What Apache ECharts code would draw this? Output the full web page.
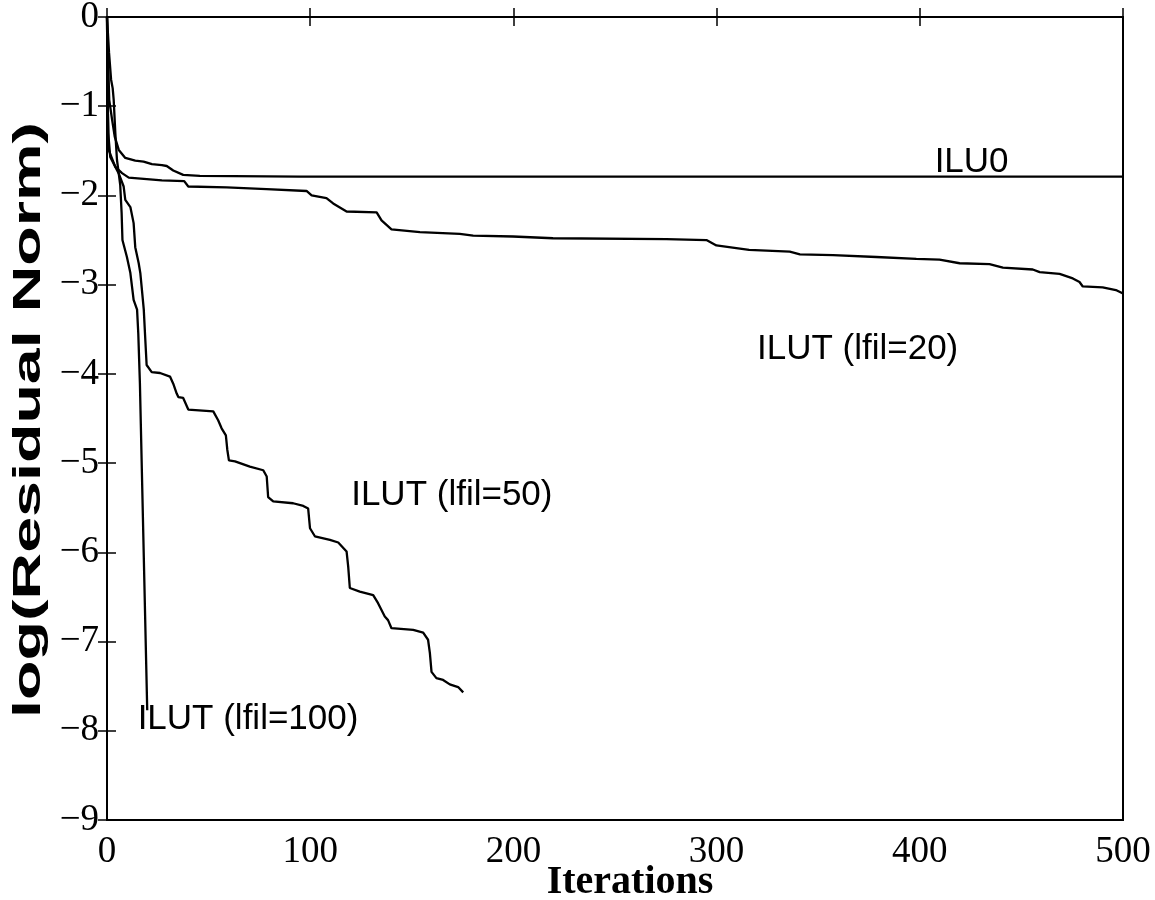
<!DOCTYPE html>
<html>
<head>
<meta charset="utf-8">
<script src="https://cdn.jsdelivr.net/npm/echarts@6/dist/echarts.min.js"></script>
<style>html,body{margin:0;padding:0;background:#fff}#c{width:1155px;height:900px}</style>
</head>
<body>
<div id="c"></div>
<script>
var xTicks = [0, 100, 200, 300, 400, 500];
var yTicks = [0, -1, -2, -3, -4, -5, -6, -7, -8, -9];

var ilu0 = [[0,0],[0.5,-0.45],[1.1,-0.93],[2.5,-1.15],[3.8,-1.34],[5.8,-1.49],[9,-1.58],[13.9,-1.61],[18,-1.62],[22.1,-1.65],[27,-1.66],[29.4,-1.67],[32.6,-1.72],[37.5,-1.77],[45.7,-1.78],[95,-1.79],[500,-1.79]];

var ilut20 = [[0,0],[0.3,-0.9],[0.6,-1.3],[1.6,-1.57],[4.1,-1.68],[7.4,-1.75],[10.7,-1.80],[27,-1.83],[38,-1.84],[40,-1.90],[58.9,-1.91],[78.5,-1.93],[98.2,-1.95],[100.7,-2.0],[108,-2.03],[111.3,-2.09],[117.9,-2.18],[132.7,-2.19],[135.1,-2.28],[140,-2.38],[154,-2.41],[173.6,-2.43],[180.2,-2.45],[199.8,-2.46],[219.5,-2.48],[275.3,-2.49],[295,-2.50],[299.9,-2.56],[309.7,-2.59],[316,-2.61],[336,-2.63],[341,-2.66],[357.3,-2.67],[378.6,-2.69],[398.3,-2.71],[409.7,-2.72],[419.6,-2.76],[434.3,-2.77],[440.9,-2.81],[455.6,-2.83],[459,-2.86],[468.8,-2.88],[475.3,-2.93],[478.6,-2.97],[480.2,-3.02],[490,-3.03],[496.5,-3.06],[500,-3.10]];

var ilut50 = [[0,0],[0.4,-1.0],[0.8,-1.49],[4.1,-1.68],[5.7,-1.75],[8.2,-1.90],[9,-2.05],[11.5,-2.13],[13.1,-2.31],[13.9,-2.58],[15.6,-2.76],[16.4,-2.87],[17.2,-3.06],[18.1,-3.28],[18.7,-3.55],[19.5,-3.90],[22,-3.98],[26.1,-3.99],[31,-4.03],[32.6,-4.11],[34.3,-4.22],[35.1,-4.26],[37.5,-4.27],[40,-4.40],[52.3,-4.42],[54.7,-4.52],[56.4,-4.61],[58.5,-4.69],[59.2,-4.85],[60,-4.97],[63,-4.98],[70.3,-5.04],[76.9,-5.08],[78.6,-5.15],[79.3,-5.38],[81.8,-5.43],[91.6,-5.45],[96.6,-5.48],[99,-5.51],[99.9,-5.73],[102.3,-5.82],[109.7,-5.86],[113.8,-5.89],[117.9,-5.99],[118.7,-6.16],[119.5,-6.40],[124.4,-6.44],[131,-6.48],[133.4,-6.57],[136.7,-6.72],[138.3,-6.76],[140,-6.85],[150.7,-6.87],[155.6,-6.90],[158,-6.98],[158.9,-7.13],[159.7,-7.34],[162.1,-7.41],[165.4,-7.43],[168.7,-7.48],[172.8,-7.51],[175.3,-7.57]];

var ilut100 = [[0,0],[1,-0.4],[2,-0.7],[2.8,-0.8],[3.3,-0.93],[4.1,-1.30],[4.9,-1.60],[6.5,-1.88],[7.2,-2.2],[7.6,-2.5],[9.8,-2.69],[11.5,-2.87],[13.1,-3.17],[13.9,-3.19],[14.8,-3.28],[15.4,-3.55],[16.2,-4.11],[16.6,-4.52],[19.8,-7.77]];

var curveNames = ['ILU0', 'ILUT (lfil=20)', 'ILUT (lfil=50)', 'ILUT (lfil=100)'];
var labelSpots = [[425.5, -1.63], [369.4, -3.73], [169.7, -5.36], [69.4, -7.87]];
var xTitle = 'Iterations';
var yTitle = 'log(Residual Norm)';

var chart = echarts.init(document.getElementById('c'));
function lineSeries(name, data) {
  return {
    name: name, type: 'line', data: data, showSymbol: false, symbol: 'none',
    lineStyle: { color: '#000', width: 2.3 }, animation: false, z: 3
  };
}
var minusFmt = function (v) { return String(v).replace('-', '\u2212'); };
var tickStyle = { show: true, inside: true, length: 9, lineStyle: { color: '#000', width: 1.5 } };
var option = {
  backgroundColor: '#fff',
  animation: false,
  grid: { left: 107, right: 32, top: 17, bottom: 80, outerBoundsMode: 'none', containLabel: false,
          show: true, borderColor: '#000', borderWidth: 2 },
  xAxis: [{
    type: 'value', min: 0, max: 500, interval: 100, position: 'bottom',
    axisLine: { show: true, lineStyle: { color: '#000', width: 2 } },
    axisTick: tickStyle, splitLine: { show: false },
    axisLabel: { color: '#000', fontFamily: 'Liberation Serif', fontSize: 37, margin: 14 }
  }, {
    type: 'value', min: 0, max: 500, interval: 100, position: 'top',
    axisLine: { show: true, lineStyle: { color: '#000', width: 2 } },
    axisTick: tickStyle, axisLabel: { show: false }, splitLine: { show: false }
  }],
  yAxis: [{
    type: 'value', min: -9, max: 0, interval: 1, position: 'left',
    axisLine: { show: true, lineStyle: { color: '#000', width: 2 } },
    axisTick: tickStyle, splitLine: { show: false },
    axisLabel: { color: '#000', fontFamily: 'Liberation Serif', fontSize: 37, margin: 8, formatter: minusFmt }
  }, {
    type: 'value', min: -9, max: 0, interval: 1, position: 'right',
    axisLine: { show: true, lineStyle: { color: '#000', width: 2 } },
    axisTick: tickStyle, axisLabel: { show: false }, splitLine: { show: false }
  }],
  series: [
    lineSeries(curveNames[0], ilu0),
    lineSeries(curveNames[1], ilut20),
    lineSeries(curveNames[2], ilut50),
    lineSeries(curveNames[3], ilut100),
    {
      type: 'scatter', symbolSize: 0, animation: false, silent: true,
      itemStyle: { opacity: 1, color: '#000' },
      data: labelSpots.map(function (p, i) { return { value: p, name: curveNames[i] }; }),
      label: {
        show: true, position: 'inside', formatter: function (p) { return p.name; },
        color: '#000', opacity: 1, textBorderWidth: 0, fontFamily: 'Liberation Sans', fontSize: 35
      }
    }
  ],
  graphic: [{
    type: 'text', x: 30, y: 420, rotation: Math.PI / 2, scaleX: 1.7, scaleY: 1,
    style: { text: yTitle, fill: '#000', font: 'bold 38px "Liberation Sans"', align: 'center', verticalAlign: 'middle' }
  }, {
    type: 'text', x: 630, y: 883, scaleX: 1, scaleY: 1,
    style: { text: xTitle, fill: '#000', font: 'bold 40px "Liberation Serif"', align: 'center', verticalAlign: 'middle' }
  }]
};
chart.setOption(option);
</script>
</body>
</html>
